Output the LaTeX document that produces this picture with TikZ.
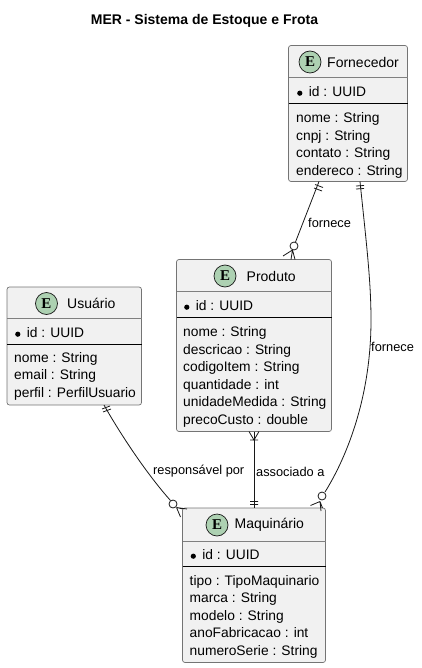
\documentclass[tikz,border=0pt]{standalone}
\usepackage{fontspec}
\setmainfont{Liberation Sans}
\newfontfamily\espot{Liberation Serif}
\usetikzlibrary{calc}
\definecolor{boxfill}{HTML}{F1F1F1}
\definecolor{boxline}{HTML}{181818}
\definecolor{spotfill}{HTML}{ADD1B2}
\tikzset{
  x=1pt,y=-1pt,
  ent/.style={draw=boxline!60!white,line width=.7pt,fill=boxfill,rounded corners=2.5pt,anchor=north west,inner sep=0,outer sep=0},
  hsep/.style={draw=boxline!55!white,line width=.7pt},
  bsep/.style={draw=black,line width=.9pt},
  spot/.style={circle,draw=boxline,line width=.7pt,fill=spotfill,minimum size=22pt,inner sep=0,font=\espot\bfseries\fontsize{15}{15}\selectfont},
  ttl/.style={anchor=west,inner sep=0,font=\fontsize{14}{14}\selectfont},
  body/.style={anchor=north west,inner sep=0,align=left,font=\fontsize{13.8}{17.5}\selectfont},
  lbl/.style={anchor=west,inner sep=0,font=\fontsize{12.8}{13}\selectfont},
  conn/.style={draw=boxline,line width=.8pt},
}
\newcommand{\dotid}{\hspace{1pt}\tikz[baseline=-3pt,x=1pt,y=1pt]\fill (0,0) circle (2.6pt);\hspace{6.5pt}id : UUID}
\begin{document}
\begin{tikzpicture}
\useasboundingbox (0,0) rectangle (422,668);
\node[anchor=center,inner sep=0,font=\bfseries\fontsize{14}{14}\selectfont] (title) at (204.5,21) {MER - Sistema de Estoque e Frota};
% Fornecedor
\node[ent,minimum width=119pt,minimum height=136pt] (forn) at (288.5,45.5) {};
\draw[hsep] (288.5,77) -- (407.5,77);
\draw[bsep] (288.5,103) -- (407.5,103);
\node[spot] (fornS) at (310,62) {E};
\node[ttl] (fornT) at (327,62) {Fornecedor};
\node[body] (fornI) at (296,86) {\dotid};
\node[body] (fornB) at (296,112.5) {nome : String\\cnpj : String\\contato : String\\endereco : String};
% Produto
\node[ent,minimum width=155pt,minimum height=172pt] (prod) at (176.5,259.5) {};
\draw[hsep] (176.5,291.5) -- (331.5,291.5);
\draw[bsep] (176.5,317.5) -- (331.5,317.5);
\node[spot] (prodS) at (225,276) {E};
\node[ttl] (prodT) at (246.5,276) {Produto};
\node[body] (prodI) at (183,300) {\dotid};
\node[body] (prodB) at (183,326.5) {nome : String\\descricao : String\\codigoItem : String\\quantidade : int\\unidadeMedida : String\\precoCusto : double};
% Usuario
\node[ent,minimum width=134.5pt,minimum height=118pt] (usu) at (7,287) {};
\draw[hsep] (7,318.5) -- (141.5,318.5);
\draw[bsep] (7,344) -- (141.5,344);
\node[spot] (usuS) at (46.5,303.5) {E};
\node[ttl] (usuT) at (67,303.5) {Usuário};
\node[body] (usuI) at (14,327) {\dotid};
\node[body] (usuB) at (14,352) {nome : String\\email : String\\perfil : PerfilUsuario};
% Maquinario
\node[ent,minimum width=143pt,minimum height=154.5pt] (maq) at (182.5,508) {};
\draw[hsep] (182.5,541) -- (325.5,541);
\draw[bsep] (182.5,566) -- (325.5,566);
\node[spot] (maqS) at (217,525) {E};
\node[ttl] (maqT) at (234.5,525) {Maquinário};
\node[body] (maqI) at (189.5,549) {\dotid};
\node[body] (maqB) at (189.5,575) {tipo : TipoMaquinario\\marca : String\\modelo : String\\anoFabricacao : int\\numeroSerie : String};
% labels
\node[lbl] (l1) at (308,222.5) {fornece};
\node[lbl] (l2) at (371,346.5) {fornece};
\node[lbl] (l3) at (153,471.5) {responsável por};
\node[lbl] (l4) at (256,471.5) {associado a};
% connectors
\coordinate (a1) at (319,181.5); \coordinate (a2) at (295.5,242);
\draw[conn] (a1) -- (a2);
\draw[conn] (315,184.5) -- (323,187.5) (314,188) -- (322,191);
\draw[conn,fill=white] (294,246) circle (4pt);
\draw[conn] (292.5,250) -- (283,256) (292.5,250) -- (291,259.5) (292.5,250) -- (295,259.5);
\coordinate (b1) at (360,181.5); \coordinate (b2) at (325,492);
\draw[conn] (b1) .. controls (366,240) and (371,280) .. (371,320) .. controls (371,400) and (345,460) .. (b2);
\draw[conn] (356,186) -- (364,185.5) (356,189) -- (364,188.5);
\draw[conn,fill=white] (322,496) circle (4pt);
\draw[conn] (320,501.5) -- (310.5,505.5) (320,501.5) -- (321,511) (320,501.5) -- (322.5,508);
\coordinate (c1) at (254,431.5); \coordinate (c2) at (254,508);
\draw[conn] (c1) -- (c2);
\draw[conn] (249,431.5) -- (254,440) -- (259,431.5) (250,440) -- (258,440) (250,501.5) -- (258,501.5) (250,504.5) -- (258,504.5);
\coordinate (d1) at (104,405); \coordinate (d2) at (170.5,500.5);
\draw[conn] (d1) .. controls (118,430) and (145,472) .. (d2);
\draw[conn] (102,409) -- (110,406) (103,412) -- (111,409);
\draw[conn,fill=white] (173,504) circle (4pt);
\draw[conn] (176.5,507.5) -- (187,509) (176.5,507.5) -- (180.5,517) (176.5,507.5) -- (183,509);
\end{tikzpicture}
\end{document}
